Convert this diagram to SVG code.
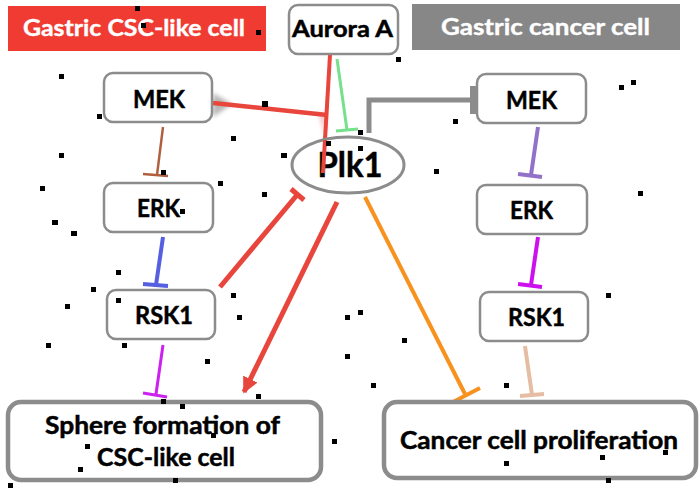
<svg xmlns="http://www.w3.org/2000/svg" width="700" height="488" viewBox="0 0 700 488">
<style>
.box{fill:#fff;stroke:#8c8c8c;stroke-width:2.5}
.big{fill:#fff;stroke:#8c8c8c;stroke-width:4.5}
.t{font-family:Lato,"Liberation Sans",sans-serif;font-weight:bold;fill:#000;stroke:#000;stroke-width:0.5;text-anchor:middle}
.h{font-family:Lato,"Liberation Sans",sans-serif;font-weight:bold;fill:#fff;stroke:#fff;stroke-width:0.4;text-anchor:middle}
.c{fill:none;stroke-linecap:butt}
.d{fill:#000}
</style>
<defs>
<marker id="arr" viewBox="0 0 10 10" refX="9" refY="5" markerWidth="3.2" markerHeight="3.2" orient="auto" markerUnits="strokeWidth">
<path d="M0,0 L10,5 L0,10 Z" fill="#e8453c"/>
</marker>
<filter id="blur" x="-50%" y="-50%" width="200%" height="200%"><feGaussianBlur stdDeviation="2"/></filter>
</defs>
<rect width="700" height="488" fill="#fff"/>

<g id="header-csc">
<rect x="8" y="6" width="258" height="45" fill="#ef3b32"/>
<text class="h" x="134" y="36" font-size="23" textLength="222" lengthAdjust="spacingAndGlyphs">Gastric CSC-like cell</text>
</g>
<g id="header-cancer">
<rect x="412" y="4" width="268" height="46" fill="#878787"/>
<text class="h" x="545.5" y="35" font-size="23" textLength="209" lengthAdjust="spacingAndGlyphs">Gastric cancer cell</text>
</g>

<g id="connectors">
<polygon points="213,93 232,104 213,117" fill="#9a9a9a" opacity="0.7" filter="url(#blur)"/>
<polygon points="318,112 327,114 325,136" fill="#f6b8b8" opacity="0.8" filter="url(#blur)"/>
<path class="c" d="M330,55 L323,173" stroke="#e8453c" stroke-width="4"/>
<path class="c" d="M213,103 L327,115" stroke="#e8453c" stroke-width="4.5"/>
<path class="c" d="M337,59 L347,130" stroke="#77e08c" stroke-width="3"/>
<path class="c" d="M336,131 L358,129" stroke="#77e08c" stroke-width="3"/>
<path class="c" d="M369,133 L369,100 L473,100" stroke="#8c8c8c" stroke-width="5"/>
<path class="c" d="M473,86 L473,114" stroke="#8c8c8c" stroke-width="6"/>
<path class="c" d="M163,127 L157,175" stroke="#b0603e" stroke-width="2.5"/>
<path class="c" d="M143,174 L168,176" stroke="#b0603e" stroke-width="2.5"/>
<path class="c" d="M163,237 L156,285" stroke="#5560e0" stroke-width="4"/>
<path class="c" d="M143,284 L168,286" stroke="#5560e0" stroke-width="4"/>
<path class="c" d="M163,345 L156,394" stroke="#cc22ee" stroke-width="3"/>
<path class="c" d="M143,393 L167,397" stroke="#cc22ee" stroke-width="3"/>
<path class="c" d="M220,287 L297,195" stroke="#e8453c" stroke-width="5"/>
<path class="c" d="M291,189 L304,200" stroke="#e8453c" stroke-width="5"/>
<path class="c" d="M337,202 L244,392" stroke="#e8453c" stroke-width="5" marker-end="url(#arr)"/>
<path class="c" d="M365,197 L465,394" stroke="#f7921e" stroke-width="4"/>
<path class="c" d="M453,402 L480,388" stroke="#f7921e" stroke-width="4"/>
<path class="c" d="M538,127 L531,175" stroke="#9272c8" stroke-width="4"/>
<path class="c" d="M518,174 L542,177" stroke="#9272c8" stroke-width="4"/>
<path class="c" d="M538,237 L531,285" stroke="#cc11ee" stroke-width="4"/>
<path class="c" d="M518,284 L542,287" stroke="#cc11ee" stroke-width="4"/>
<path class="c" d="M525,346 L532,395" stroke="#e5bda3" stroke-width="4"/>
<path class="c" d="M520,396 L544,394" stroke="#e5bda3" stroke-width="4"/>
</g>

<g id="aurora-a">
<rect class="box" x="289" y="5" width="109" height="49" rx="9"/>
<text class="t" x="342.5" y="37" font-size="23" textLength="101" lengthAdjust="spacingAndGlyphs">Aurora A</text>
</g>
<g id="mek-left">
<rect class="box" x="104" y="73" width="108" height="49" rx="9"/>
<text class="t" x="159" y="108" font-size="25" textLength="52" lengthAdjust="spacingAndGlyphs">MEK</text>
</g>
<g id="erk-left">
<rect class="box" x="104" y="183" width="109" height="49" rx="9"/>
<text class="t" x="158.5" y="217" font-size="25" textLength="43" lengthAdjust="spacingAndGlyphs">ERK</text>
</g>
<g id="rsk1-left">
<rect class="box" x="107" y="290" width="108" height="49" rx="9"/>
<text class="t" x="164" y="324" font-size="25" textLength="58" lengthAdjust="spacingAndGlyphs">RSK1</text>
</g>
<g id="mek-right">
<rect class="box" x="477" y="74" width="109" height="49" rx="9"/>
<text class="t" x="531.5" y="109" font-size="25" textLength="51" lengthAdjust="spacingAndGlyphs">MEK</text>
</g>
<g id="erk-right">
<rect class="box" x="477" y="185" width="110" height="49" rx="9"/>
<text class="t" x="531.5" y="219" font-size="25" textLength="43" lengthAdjust="spacingAndGlyphs">ERK</text>
</g>
<g id="rsk1-right">
<rect class="box" x="480" y="292" width="108" height="49" rx="9"/>
<text class="t" x="536.5" y="326" font-size="25" textLength="57" lengthAdjust="spacingAndGlyphs">RSK1</text>
</g>
<g id="plk1">
<ellipse cx="348" cy="165" rx="56" ry="28" fill="#fff" stroke="#8c8c8c" stroke-width="3"/>
<text class="t" x="350" y="177" font-size="35" textLength="65" lengthAdjust="spacingAndGlyphs">Plk1</text>
</g>
<g id="sphere-formation">
<rect class="big" x="8" y="402" width="313" height="78" rx="13"/>
<text class="t" x="162.5" y="434" font-size="24" textLength="235" lengthAdjust="spacingAndGlyphs">Sphere formation of</text>
<text class="t" x="166" y="466" font-size="24" textLength="138" lengthAdjust="spacingAndGlyphs">CSC-like cell</text>
</g>
<g id="cancer-proliferation">
<rect class="big" x="384" y="402" width="312" height="76" rx="13"/>
<text class="t" x="539" y="449" font-size="24" textLength="278" lengthAdjust="spacingAndGlyphs">Cancer cell proliferation</text>
</g>
<g id="overlay">
<path class="c" d="M325,140 L323,173" stroke="#e8453c" stroke-width="4"/>
</g>

<g id="dots">
<rect class="d" x="135" y="6" width="5" height="5"/>
<rect class="d" x="141" y="23" width="5" height="5"/>
<rect class="d" x="256" y="30" width="5" height="5"/>
<rect class="d" x="59" y="74" width="5" height="5"/>
<rect class="d" x="97" y="114" width="5" height="5"/>
<rect class="d" x="262" y="101" width="6" height="6"/>
<rect class="d" x="231" y="136" width="5" height="5"/>
<rect class="d" x="59" y="153" width="5" height="5"/>
<rect class="d" x="281" y="153" width="6" height="5"/>
<rect class="d" x="326" y="141" width="5" height="5"/>
<rect class="d" x="396" y="57" width="5" height="5"/>
<rect class="d" x="619" y="85" width="5" height="5"/>
<rect class="d" x="631" y="80" width="5" height="5"/>
<rect class="d" x="453" y="119" width="5" height="5"/>
<rect class="d" x="358" y="130" width="5" height="5"/>
<rect class="d" x="358" y="146" width="5" height="5"/>
<rect class="d" x="262" y="192" width="5" height="5"/>
<rect class="d" x="161" y="170" width="5" height="5"/>
<rect class="d" x="218" y="181" width="5" height="5"/>
<rect class="d" x="40" y="186" width="5" height="5"/>
<rect class="d" x="180" y="209" width="5" height="5"/>
<rect class="d" x="52" y="220" width="6" height="5"/>
<rect class="d" x="71" y="231" width="6" height="5"/>
<rect class="d" x="116" y="270" width="5" height="5"/>
<rect class="d" x="91" y="287" width="5" height="5"/>
<rect class="d" x="65" y="304" width="5" height="5"/>
<rect class="d" x="116" y="298" width="5" height="5"/>
<rect class="d" x="231" y="293" width="5" height="5"/>
<rect class="d" x="237" y="315" width="5" height="5"/>
<rect class="d" x="345" y="315" width="5" height="5"/>
<rect class="d" x="434" y="169" width="5" height="5"/>
<rect class="d" x="638" y="191" width="5" height="5"/>
<rect class="d" x="358" y="310" width="5" height="5"/>
<rect class="d" x="606" y="293" width="5" height="5"/>
<rect class="d" x="46" y="343" width="5" height="5"/>
<rect class="d" x="122" y="343" width="5" height="5"/>
<rect class="d" x="205" y="359" width="5" height="5"/>
<rect class="d" x="345" y="354" width="5" height="5"/>
<rect class="d" x="256" y="394" width="5" height="5"/>
<rect class="d" x="161" y="399" width="5" height="5"/>
<rect class="d" x="180" y="404" width="5" height="5"/>
<rect class="d" x="211" y="433" width="5" height="5"/>
<rect class="d" x="85" y="444" width="5" height="5"/>
<rect class="d" x="332" y="439" width="5" height="5"/>
<rect class="d" x="78" y="467" width="5" height="5"/>
<rect class="d" x="173" y="478" width="5" height="5"/>
<rect class="d" x="8" y="483" width="5" height="5"/>
<rect class="d" x="402" y="338" width="5" height="5"/>
<rect class="d" x="371" y="383" width="5" height="5"/>
<rect class="d" x="504" y="383" width="5" height="5"/>
<rect class="d" x="504" y="461" width="5" height="5"/>
<rect class="d" x="600" y="455" width="5" height="5"/>
<rect class="d" x="663" y="450" width="5" height="5"/>
<rect class="d" x="606" y="478" width="5" height="5"/>
</g>
</svg>
